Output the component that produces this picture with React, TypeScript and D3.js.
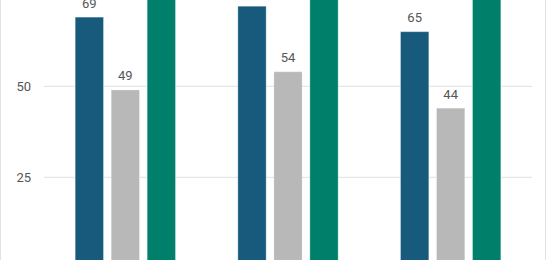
import React from "react";
import * as d3 from "d3";

const categories = ["A", "B", "C"];
const seriesNames = ["Series 1", "Series 2", "Series 3"];
const series1 = [69, 72, 65];
const series2 = [49, 54, 44];
const series3 = [84, 86, 83];
const yTicks = [25, 50];
const colors = ["#185a7b", "#b8b8b8", "#00806a"];

const W = 546;
const H = 260;

export default function App() {
  const x = d3.scaleBand<string>().domain(categories).range([44, 532]).paddingInner(0).paddingOuter(0);
  const groupWidth = 100.3;
  const inner = d3
    .scaleBand<string>()
    .domain(seriesNames)
    .range([0, groupWidth])
    .paddingInner(0.214)
    .paddingOuter(0);
  const y = d3.scaleLinear().domain([0, 25]).range([268.3, 177.3]);
  const all = [series1, series2, series3];
  const groupOffset = (x.bandwidth() - groupWidth) / 2;

  return (
    <svg
      width={W}
      height={H}
      style={{ position: "absolute", left: 0, top: 0, fontFamily: "Roboto, sans-serif" }}
    >
      <rect x={0} y={0} width={W} height={H} fill="#fff" />
      <line x1={0.5} x2={0.5} y1={0} y2={H} stroke="#e3e3e3" />
      <line x1={545.5} x2={545.5} y1={0} y2={H} stroke="#e3e3e3" />
      {yTicks.map((t) => (
        <g key={t}>
          <line x1={44} x2={532} y1={y(t)} y2={y(t)} stroke="#e0e0e0" strokeWidth={1} />
          <text x={31} y={y(t)} dy="0.35em" textAnchor="end" fontSize={13} fill="#555">
            {t}
          </text>
        </g>
      ))}
      {categories.map((c, ci) => (
        <g key={c} transform={`translate(${(x(c) ?? 0) + groupOffset},0)`}>
          {seriesNames.map((s, si) => {
            const v = all[si][ci];
            const bx = inner(s) ?? 0;
            const bw = inner.bandwidth();
            return (
              <g key={s}>
                <rect
                  x={bx}
                  y={y(v)}
                  width={bw}
                  height={y(0) - y(v)}
                  fill={colors[si]}
                  stroke="rgba(255,255,255,0.3)"
                  strokeWidth={1}
                />
                <text
                  x={bx + bw / 2}
                  y={y(v) - 9.5}
                  textAnchor="middle"
                  fontSize={13}
                  fill="#555"
                >
                  {v}
                </text>
              </g>
            );
          })}
        </g>
      ))}
    </svg>
  );
}
